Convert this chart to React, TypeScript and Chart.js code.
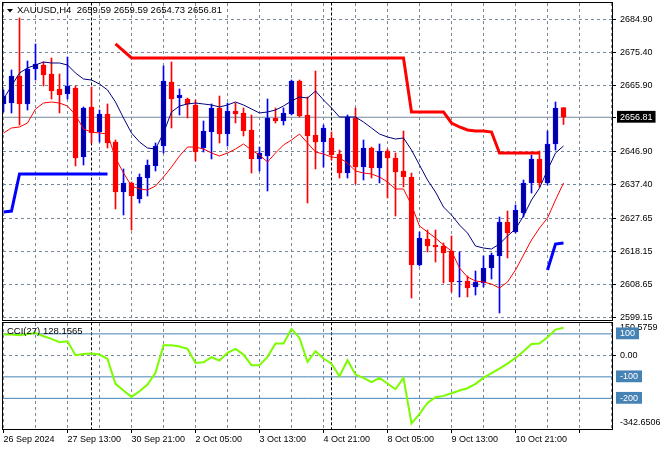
import React, { useEffect, useRef } from 'react';
import { Chart, registerables } from 'chart.js';

Chart.register(...registerables);

// ---- Data (XAUUSD H4) ----
const openP = [2660.65, 2660.93, 2668.73, 2660.65, 2670.75, 2671.90, 2669.31, 2664.98, 2663.53, 2665.26,
  2645.34, 2659.78, 2652.56, 2657.76, 2649.67, 2635.24, 2637.84, 2633.22, 2639.28, 2642.75,
  2648.52, 2667.00, 2662.38, 2662.09, 2660.36, 2647.94, 2652.56, 2659.49, 2651.98, 2658.62,
  2658.05, 2653.14, 2644.77, 2645.63, 2656.60, 2655.74, 2657.76, 2667.29, 2657.47, 2651.70,
  2649.67, 2650.83, 2646.21, 2640.72, 2656.60, 2642.46, 2647.94, 2642.17, 2647.08, 2645.06,
  2641.30, 2639.57, 2614.16, 2621.67, 2619.94, 2619.65, 2618.21, 2609.26, 2609.55, 2607.81,
  2608.97, 2613.30, 2616.76, 2626.58, 2623.69, 2629.18, 2637.84, 2644.77, 2637.84, 2649.10,
  2659.59];
const highP = [2664.69, 2670.46, 2685.47, 2673.06, 2677.97, 2672.77, 2673.93, 2669.31, 2674.21, 2665.84,
  2659.78, 2665.55, 2658.91, 2660.65, 2650.25, 2641.88, 2638.13, 2640.44, 2644.48, 2649.39,
  2671.62, 2672.77, 2664.98, 2662.38, 2661.80, 2655.74, 2660.65, 2662.95, 2660.93, 2660.93,
  2659.49, 2657.47, 2648.23, 2662.09, 2659.49, 2659.49, 2667.57, 2667.57, 2662.67, 2670.17,
  2654.58, 2652.56, 2647.36, 2657.47, 2659.49, 2650.25, 2648.23, 2649.10, 2647.65, 2646.50,
  2652.85, 2640.72, 2623.69, 2624.27, 2624.27, 2620.52, 2622.54, 2617.92, 2610.99, 2612.43,
  2616.76, 2617.63, 2628.02, 2629.75, 2631.49, 2638.70, 2645.92, 2647.08, 2652.85, 2661.22,
  2659.59];
const lowP = [2658.34, 2658.05, 2654.58, 2658.91, 2667.57, 2665.84, 2662.09, 2658.05, 2662.09, 2642.75,
  2643.03, 2649.39, 2649.67, 2647.94, 2630.33, 2628.60, 2624.27, 2632.06, 2634.08, 2641.30,
  2646.50, 2653.72, 2657.47, 2656.60, 2644.19, 2646.79, 2644.77, 2649.39, 2648.52, 2655.16,
  2651.41, 2640.72, 2641.30, 2635.53, 2655.16, 2654.58, 2657.47, 2656.89, 2632.06, 2641.88,
  2642.46, 2644.48, 2639.28, 2639.28, 2637.55, 2638.70, 2639.28, 2637.84, 2633.51, 2628.31,
  2636.68, 2604.64, 2613.88, 2617.92, 2615.03, 2608.97, 2606.37, 2604.93, 2604.93, 2605.50,
  2607.81, 2610.12, 2600.31, 2616.19, 2623.40, 2628.02, 2634.95, 2636.68, 2637.26, 2647.36,
  2654.73];
const closeP = [2662.95, 2668.73, 2660.65, 2670.75, 2672.19, 2669.02, 2664.40, 2663.24, 2665.84, 2645.06,
  2659.49, 2652.27, 2657.76, 2649.39, 2635.24, 2637.84, 2634.08, 2639.57, 2643.03, 2648.52,
  2667.29, 2662.09, 2663.24, 2660.65, 2646.79, 2652.85, 2659.49, 2651.98, 2658.62, 2657.76,
  2652.85, 2644.77, 2646.50, 2656.60, 2655.74, 2658.05, 2667.29, 2657.18, 2651.41, 2649.67,
  2653.72, 2645.92, 2640.72, 2656.89, 2642.46, 2647.94, 2642.17, 2647.08, 2645.06, 2641.01,
  2639.57, 2614.16, 2621.96, 2619.65, 2619.36, 2617.63, 2609.26, 2609.55, 2607.52, 2609.26,
  2613.30, 2617.05, 2626.58, 2623.40, 2630.04, 2637.84, 2644.77, 2637.84, 2649.10, 2659.49,
  2656.81];
const maUpper = [2662.09, 2665.84, 2669.59, 2671.04, 2671.90, 2672.77, 2672.48, 2672.48, 2671.90, 2669.59,
  2667.86, 2667.57, 2666.42, 2664.69, 2661.22, 2656.60, 2652.27, 2649.67, 2647.94, 2647.65,
  2652.27, 2658.34, 2660.07, 2660.65, 2660.93, 2660.65, 2660.36, 2659.78, 2660.36, 2661.22,
  2660.36, 2659.20, 2658.05, 2658.34, 2658.91, 2660.07, 2661.51, 2662.67, 2662.38, 2664.40,
  2661.80, 2659.49, 2656.89, 2656.89, 2656.89, 2655.45, 2653.72, 2651.98, 2651.12, 2650.54,
  2650.83, 2647.36, 2643.03, 2638.70, 2635.24, 2630.91, 2628.60, 2625.71, 2623.40, 2619.65,
  2619.07, 2618.78, 2620.23, 2622.54, 2624.56, 2628.31, 2632.93, 2636.39, 2641.59, 2646.50,
  2648.52];
const maLower = [2652.27, 2653.72, 2654.01, 2655.16, 2659.20, 2660.93, 2661.22, 2660.93, 2660.07, 2657.47,
  2653.43, 2652.56, 2652.27, 2651.98, 2645.06, 2640.72, 2637.00, 2636.11, 2635.82, 2636.97,
  2639.57, 2642.46, 2645.63, 2648.23, 2648.23, 2647.65, 2646.50, 2645.63, 2646.50, 2647.65,
  2649.10, 2647.36, 2645.92, 2643.90, 2646.50, 2648.81, 2650.25, 2651.98, 2649.39, 2646.79,
  2646.21, 2645.34, 2645.06, 2643.61, 2641.30, 2640.72, 2640.44, 2639.57, 2638.13, 2636.11,
  2636.11, 2631.49, 2625.42, 2623.69, 2621.96, 2619.94, 2618.21, 2613.30, 2610.70, 2609.55,
  2609.26, 2608.68, 2607.52, 2609.26, 2612.72, 2617.05, 2621.39, 2624.85, 2627.74, 2632.93,
  2637.84];
const resistance = [null, null, null, null, null, null, null, null, null, null,
  null, null, null, null, 2677.97, 2675.95, 2673.93, 2673.93, 2673.93, 2673.93,
  2673.93, 2673.93, 2673.93, 2673.93, 2673.93, 2673.93, 2673.93, 2673.93, 2673.93, 2673.93,
  2673.93, 2673.93, 2673.93, 2673.93, 2673.93, 2673.93, 2673.93, 2673.93, 2673.93, 2673.93,
  2673.93, 2673.93, 2673.93, 2673.93, 2673.93, 2673.93, 2673.93, 2673.93, 2673.93, 2673.93,
  2673.93, 2658.34, 2658.34, 2658.34, 2658.34, 2658.34, 2655.16, 2654.01, 2653.14, 2652.85,
  2652.85, 2652.56, 2646.50, 2646.50, 2646.50, 2646.50, 2646.50, 2646.50, null, null,
  null];
const support = [2629.47, 2629.75, 2640.44, 2640.44, 2640.44, 2640.44, 2640.44, 2640.44, 2640.44, 2640.44,
  2640.44, 2640.44, 2640.44, 2640.44, null, null, null, null, null, null,
  null, null, null, null, null, null, null, null, null, null,
  null, null, null, null, null, null, null, null, null, null,
  null, null, null, null, null, null, null, null, null, null,
  null, null, null, null, null, null, null, null, null, null,
  null, null, null, null, null, null, null, null, 2612.72, 2620.23,
  2620.52];
const cci = [96.7, 96.7, 93.6, 99.8, 104.5, 89.0, 76.6, 61.1, 65.7, 0.6,
  6.8, 8.4, 3.7, -16.4, -132.7, -163.7, -193.2, -166.8, -135.8, -81.5,
  47.1, 47.1, 40.9, 30.1, -35.0, -32.0, -8.7, -24.2, 11.5, 30.1,
  3.7, -45.9, -45.9, -7.1, 54.9, 54.9, 123.1, 81.3, -30.4, 19.2,
  -14.9, -38.5, -97.1, -22.6, -89.3, -104.8, -124.9, -104.8, -131.2, -157.5,
  -104.8, -317.2, -272.2, -221.1, -194.7, -188.5, -176.1, -163.7, -152.9, -132.7,
  -104.8, -83.1, -61.4, -38.1, -11.8, 19.2, 53.3, 54.9, 84.3, 120.0,
  128.16];

const timeLabels = ['26 Sep 2024', '27 Sep 13:00', '30 Sep 21:00', '2 Oct 05:00', '3 Oct 13:00',
  '4 Oct 21:00', '8 Oct 05:00', '9 Oct 13:00', '10 Oct 21:00'];
const weekStarts = [11, 41];
const priceTicks = [2599.15, 2608.65, 2618.15, 2627.65, 2637.40, 2646.90, 2656.81, 2665.90, 2675.40, 2684.90];
const BID = 2656.81;
const cciLevels = [100, -100, -200];
const CCI_MAX = 150.5759;
const CCI_MIN = -342.6506;
const symbolLine = 'XAUUSD,H4  2659.59 2659.59 2654.73 2656.81';
const cciLine = 'CCI(27) 128.1565';

// ---- Styling ----
const FONT = '"Liberation Sans", Arial, sans-serif';
const FSIZE = 9.5;
const AXIS_FONT = { family: FONT, size: 9 };
const GRID = '#778899';
const CLEAR = 'rgba(0,0,0,0)';
const X_MIN = -0.0625;
const X_MAX = 76.0625;
const LABEL_EVERY = 8;
const GRID_EVERY = 4;
const gridTicks: number[] = [];
for (let v = 0; v <= 76; v += GRID_EVERY) gridTicks.push(v);

Chart.defaults.font.family = FONT;
Chart.defaults.font.size = FSIZE;
Chart.defaults.color = '#000';

const framePlugin = {
  id: 'mtFrame',
  afterDraw(chart: any, _args: any, opts: any) {
    const { ctx, chartArea: a } = chart;
    ctx.save();
    ctx.setLineDash([]);
    ctx.strokeStyle = '#000';
    ctx.lineWidth = 1;
    ctx.strokeRect(Math.round(a.left) - 0.5, Math.round(a.top) - 0.5,
      Math.round(a.right - a.left) + 1, Math.round(a.bottom - a.top) + 1);
    ctx.fillStyle = '#000';
    ctx.font = `${FSIZE}px ${FONT}`;
    ctx.textBaseline = 'middle';
    if (opts.triangle) {
      ctx.beginPath();
      ctx.moveTo(a.left + 4, a.top + 6);
      ctx.lineTo(a.left + 10, a.top + 6);
      ctx.lineTo(a.left + 7, a.top + 9.5);
      ctx.closePath();
      ctx.fill();
    }
    if (opts.text) ctx.fillText(opts.text, a.left + opts.dx, a.top + opts.dy);
    ctx.restore();
  },
};

const lineDs = (data: any[], color: string, width: number, order: number, dash: number[] = []) => ({
  type: 'line',
  data,
  borderColor: color,
  backgroundColor: color,
  borderWidth: width,
  borderDash: dash,
  pointRadius: 0,
  tension: 0,
  fill: false,
  spanGaps: false,
  order,
});

const xScale = (showLabels: boolean) => ({
  type: 'linear',
  min: X_MIN,
  max: X_MAX,
  offset: false,
  bounds: 'data',
  afterBuildTicks: (s: any) => { s.ticks = gridTicks.map((v) => ({ value: v })); },
  afterFit: (s: any) => { s.height = showLabels ? 21 : 0; s.paddingLeft = 0; s.paddingRight = 0; },
  grid: {
    color: GRID,
    offset: false,
    drawTicks: showLabels,
    tickLength: 4,
    tickColor: (c: any) => (c.tick && c.tick.value % LABEL_EVERY === 0 ? '#000' : CLEAR),
  },
  border: { display: false, dash: [3, 3] },
  ticks: {
    display: showLabels,
    autoSkip: false,
    maxRotation: 0,
    minRotation: 0,
    align: 'start',
    padding: 1,
    color: '#000',
    font: AXIS_FONT,
    callback: (v: any) => (v % LABEL_EVERY === 0 ? (timeLabels[v / LABEL_EVERY] ?? '') : ''),
  },
});

function mainConfig(): any {
  const bull = closeP.map((c, i) => c >= openP[i]);
  const sepData = weekStarts.map((w) => lineDs([{ x: w, y: 2500 }, { x: w, y: 2800 }], '#000', 1, 9, [3, 2]));
  return {
    type: 'bar',
    data: {
      datasets: [
        lineDs([{ x: X_MIN, y: BID }, { x: X_MAX, y: BID }], GRID, 1, 10),
        ...sepData,
        {
          type: 'bar',
          data: lowP.map((l, i) => ({ x: i, y: [l, highP[i]] })),
          backgroundColor: bull.map((b) => (b ? '#0000FF' : '#FF0000')),
          borderWidth: 0,
          barThickness: 1,
          grouped: false,
          order: 6,
        },
        {
          type: 'bar',
          data: openP.map((o, i) => ({ x: i, y: [o, closeP[i]] })),
          backgroundColor: bull.map((b) => (b ? '#000099' : '#FF0000')),
          borderColor: bull.map((b) => (b ? '#0000FF' : '#FF0000')),
          borderWidth: 1,
          borderSkipped: false,
          barThickness: 5,
          grouped: false,
          order: 5,
        },
        lineDs(maLower.map((v, i) => ({ x: i, y: v })), '#FF0000', 1, 4),
        lineDs(maUpper.map((v, i) => ({ x: i, y: v })), '#000080', 1, 3),
        lineDs(resistance.map((v, i) => ({ x: i, y: v })), '#FF0000', 3, 2),
        lineDs(support.map((v, i) => ({ x: i, y: v })), '#0000FF', 3, 2),
      ],
    },
    options: {
      animation: false,
      responsive: false,
      events: [],
      layout: { padding: { left: 3, top: 3, right: 0, bottom: 10 } },
      plugins: {
        legend: { display: false },
        tooltip: { enabled: false },
        mtFrame: { text: symbolLine, dx: 14, dy: 7.5, triangle: true },
      },
      scales: {
        x: xScale(false),
        y: {
          type: 'linear',
          position: 'right',
          min: 2598.29,
          max: 2689.8,
          bounds: 'data',
          afterBuildTicks: (s: any) => { s.ticks = priceTicks.map((v) => ({ value: v })); },
          afterFit: (s: any) => { s.width = 48; s.paddingTop = 0; s.paddingBottom = 0; },
          grid: {
            color: (c: any) => (c.tick && c.tick.value === BID ? CLEAR : GRID),
            drawTicks: true,
            tickLength: 4,
            tickColor: '#000',
          },
          border: { display: false, dash: [3, 3] },
          ticks: {
            autoSkip: false,
            padding: 4,
            font: AXIS_FONT,
            color: (c: any) => (c.tick && c.tick.value === BID ? '#fff' : '#000'),
            showLabelBackdrop: (c: any) => !!(c.tick && c.tick.value === BID),
            backdropColor: '#000',
            backdropPadding: { left: 3, right: 3, top: 1, bottom: 0 },
            callback: (v: any) => Number(v).toFixed(2),
          },
        },
      },
    },
    plugins: [framePlugin],
  };
}

function subConfig(): any {
  const isLevel = (c: any) => !!(c.tick && cciLevels.includes(c.tick.value));
  const topPos = 129.3;
  const botPos = -312.6;
  return {
    type: 'line',
    data: {
      datasets: [
        ...weekStarts.map((w) => lineDs([{ x: w, y: -1000 }, { x: w, y: 1000 }], '#000', 1, 9, [3, 2])),
        ...cciLevels.map((l) => lineDs([{ x: X_MIN, y: l }, { x: X_MAX, y: l }], '#4682B4', 1, 5)),
        lineDs(cci.map((v, i) => ({ x: i, y: v })), '#7CFC00', 2, 1),
      ],
    },
    options: {
      animation: false,
      responsive: false,
      events: [],
      layout: { padding: { left: 3, top: 3, right: 0, bottom: 0 } },
      plugins: {
        legend: { display: false },
        tooltip: { enabled: false },
        mtFrame: { text: cciLine, dx: 4, dy: 8, triangle: false },
      },
      scales: {
        x: xScale(true),
        y: {
          type: 'linear',
          position: 'right',
          min: CCI_MIN,
          max: CCI_MAX,
          bounds: 'data',
          afterBuildTicks: (s: any) => {
            s.ticks = [topPos, 100, 0, -100, -200, botPos].map((v) => ({ value: v }));
          },
          afterFit: (s: any) => { s.width = 48; s.paddingTop = 0; s.paddingBottom = 0; },
          grid: {
            color: (c: any) => (c.tick && c.tick.value === 0 ? GRID : CLEAR),
            drawTicks: true,
            tickLength: 4,
            tickColor: (c: any) => (c.tick && c.tick.value === 0 ? '#000' : CLEAR),
          },
          border: { display: false, dash: [3, 3] },
          ticks: {
            autoSkip: false,
            padding: 4,
            font: AXIS_FONT,
            color: (c: any) => (isLevel(c) ? '#fff' : '#000'),
            showLabelBackdrop: (c: any) => isLevel(c),
            backdropColor: '#4682B4',
            backdropPadding: { left: 4, right: 4, top: 1, bottom: 0 },
            callback: (v: any) => {
              if (v === topPos) return CCI_MAX.toFixed(4);
              if (v === botPos) return CCI_MIN.toFixed(4);
              if (v === 0) return '0.00';
              return String(v);
            },
          },
        },
      },
    },
    plugins: [framePlugin],
  };
}

export default function App() {
  const mainRef = useRef<HTMLCanvasElement>(null);
  const subRef = useRef<HTMLCanvasElement>(null);
  useEffect(() => {
    const main = new Chart(mainRef.current as HTMLCanvasElement, mainConfig());
    const sub = new Chart(subRef.current as HTMLCanvasElement, subConfig());
    return () => {
      main.destroy();
      sub.destroy();
    };
  }, []);
  return (
    <div style={{ position: 'fixed', left: 0, top: 0, width: 660, height: 450, background: '#fff', overflow: 'hidden' }}>
      <canvas ref={mainRef} width={660} height={330}
        style={{ position: 'absolute', left: 0, top: 0, width: 660, height: 330 }} />
      <canvas ref={subRef} width={660} height={130}
        style={{ position: 'absolute', left: 0, top: 320, width: 660, height: 130 }} />
    </div>
  );
}
